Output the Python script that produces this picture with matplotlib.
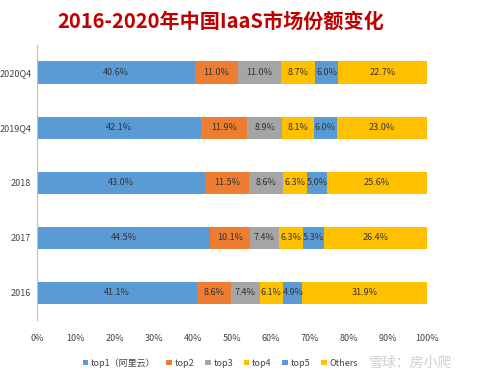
import matplotlib
matplotlib.use("Agg")
import matplotlib.pyplot as plt
import numpy as np

plt.rcParams['font.family'] = ['Noto Sans CJK SC', 'DejaVu Sans']

categories = ["2016", "2017", "2018", "2019Q4", "2020Q4"]
series_names = ["top1（阿里云）", "top2", "top3", "top4", "top5", "Others"]
top1 = [41.1, 44.5, 43.0, 42.1, 40.6]
top2 = [8.6, 10.1, 11.5, 11.9, 11.0]
top3 = [7.4, 7.4, 8.6, 8.9, 11.0]
top4 = [6.1, 6.3, 6.3, 8.1, 8.7]
top5 = [4.9, 5.3, 5.0, 6.0, 6.0]
others = [31.9, 26.4, 25.6, 23.0, 22.7]
xticklabels = ["0%", "10%", "20%", "30%", "40%", "50%", "60%", "70%", "80%", "90%", "100%"]

series = [top1, top2, top3, top4, top5, others]
colors = ["#5B9BD5", "#ED7D31", "#A5A5A5", "#FFC000", "#5B9BD5", "#FFC000"]

fig = plt.figure(figsize=(4.79, 3.78), dpi=100)
ax = fig.add_axes([0.077, 0.153, 0.814, 0.728])

y = np.arange(len(categories))
left = np.zeros(len(categories))
for vals, name, c in zip(series, series_names, colors):
    vals = np.array(vals)
    ax.barh(y, vals, left=left, height=0.4, color=c, label=name)
    for yi, l, v in zip(y, left, vals):
        ax.text(l + v / 2, yi, f"{v:.1f}%", ha="center", va="center",
                fontsize=6.5, color="#333333")
    left += vals

ax.set_xlim(0, 100)
ax.set_ylim(-0.5, 4.5)
ax.set_xticks(np.arange(0, 101, 10))
ax.set_xticklabels(xticklabels, fontsize=6.5, color="#444444")
ax.set_yticks(y)
ax.set_yticklabels(categories, fontsize=6.5, color="#444444")
ax.tick_params(axis='x', length=0, pad=10)
ax.tick_params(axis='y', length=0, pad=4)
for s in ["top", "right", "bottom"]:
    ax.spines[s].set_visible(False)
ax.spines["left"].set_color("#BFBFBF")

fig.text(0.46, 0.945, "2016-2020年中国IaaS市场份额变化", ha="center", va="center",
         fontsize=14.5, fontweight="bold", color="#C00000")

handles, labels = ax.get_legend_handles_labels()
fig.legend(handles, labels, loc="center", bbox_to_anchor=(0.46, 0.04), ncol=6,
           frameon=False, fontsize=6.5, handlelength=0.6, handleheight=0.6,
           handletextpad=0.3, columnspacing=1.2, labelcolor="#444444")

fig.text(0.77, 0.04, "雪球：房小爬", ha="left", va="center", fontsize=10,
         color="#D0D0D0")

fig.savefig("out.png", dpi=100)
